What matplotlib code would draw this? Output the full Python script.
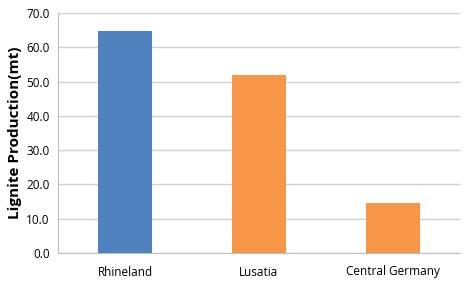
import matplotlib.pyplot as plt

regions = ['Rhineland', 'Lusatia', 'Central Germany']
production = [64.8, 52.0, 14.5]
bar_colors = ['#4F81BD', '#F79646', '#F79646']

plt.rcParams['font.family'] = ['Open Sans', 'DejaVu Sans']

fig = plt.figure(figsize=(4.65, 2.85), dpi=100)
ax = fig.add_axes([58 / 465, 32 / 285, 402 / 465, 240 / 285])

x = range(len(regions))
ax.bar(x, production, color=bar_colors, width=0.4, zorder=3)

ax.set_xlim(-0.5, len(regions) - 0.5)
ax.set_ylim(0, 70)
ax.set_yticks(range(0, 71, 10))
ax.set_yticklabels([f'{v:.1f}' for v in range(0, 71, 10)], fontsize=8.5)
ax.set_xticks(list(x))
ax.set_xticklabels(regions, fontsize=8.5)
ax.tick_params(axis='both', length=0, pad=6)
ax.tick_params(axis='x', pad=9)

ax.grid(axis='y', color='#D0D0D0', linewidth=1, zorder=0)
for side in ['top', 'right']:
    ax.spines[side].set_visible(False)
ax.spines['left'].set_color('#BFBFBF')
ax.spines['bottom'].set_color('#BFBFBF')

ax.set_ylabel('Lignite Production(mt)', fontsize=11, fontweight='bold', labelpad=3)

fig.savefig('out.png', dpi=100)
